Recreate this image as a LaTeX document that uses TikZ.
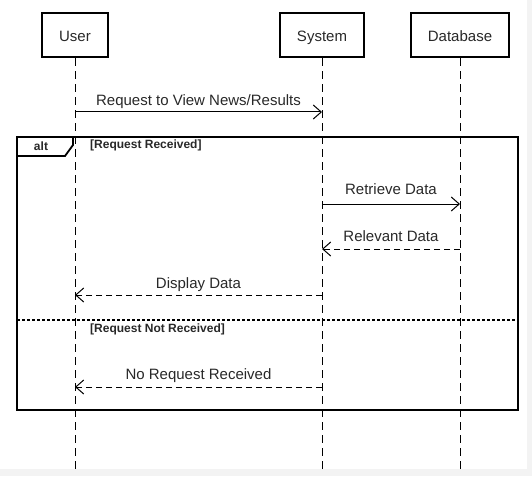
\documentclass[tikz,border=0pt]{standalone}
\usepackage{fontspec}
\setmainfont{Liberation Sans}
\usetikzlibrary{arrows.meta, positioning}
\definecolor{inkgray}{RGB}{40, 40, 40}
\definecolor{edgegray}{RGB}{243, 243, 243}

\begin{document}
\begin{tikzpicture}[x=1pt, y=-1pt,
    actor/.style={draw=black, line width=2.4pt, minimum width=66pt, minimum height=44pt, inner sep=0pt, text height=14pt, text depth=1pt, font=\fontsize{15}{17}\selectfont, text=inkgray},
    lifeline/.style={draw=black, line width=1pt, dash pattern=on 8pt off 5pt},
    msg/.style={line width=1pt, -{Straight Barb[length=8pt, width=14pt]}},
    reply/.style={msg, dash pattern=on 6pt off 4pt},
    msglabel/.style={font=\fontsize{15}{17}\selectfont, text=inkgray, above, inner sep=1pt, text height=11pt, text depth=3pt, yshift=2pt},
    guard/.style={font=\bfseries\fontsize{12}{14}\selectfont, text=inkgray, anchor=west, inner sep=0pt}]
                \useasboundingbox (0,0) rectangle (532,476);
                % Page edge
                \fill[edgegray] (0,469) rectangle (532,476);
                \fill[edgegray] (527,0) rectangle (532,476);

                % Participants
                \node[actor, minimum width=66pt] (user) at (75,35) {User};
                \node[actor, minimum width=84pt] (system) at (322,35) {System};
                \node[actor, minimum width=98pt] (db) at (460,35) {Database};

                % Lifelines
                \foreach \p/\x in {user/75, system/322, db/460} {
                    \coordinate (\p-end) at (\x,469);
                    \draw[lifeline] (\p.south) -- (\p-end);
                }

                % Message points
                \coordinate (u-req) at (75,112);   \coordinate (s-req) at (322,112);
                \coordinate (s-get) at (322,204);  \coordinate (d-get) at (460,204);
                \coordinate (d-rel) at (460,249);  \coordinate (s-rel) at (322,249);
                \coordinate (s-show) at (322,295); \coordinate (u-show) at (75,295);
                \coordinate (s-none) at (322,387); \coordinate (u-none) at (75,387);

                % Alt frame
                \draw[line width=2.2pt] (17,137) rectangle (518,410);
                \draw[line width=1.8pt] (17,156) -- (65,156) -- (73,145) -- (73,137);
                \node[font=\bfseries\fontsize{12}{14}\selectfont, text=inkgray] (alt) at (41,146) {alt};
                \node[guard] (g1) at (90,145.5) {[Request Received]};
                \draw[line width=1.8pt, dash pattern=on 3pt off 2pt] (17,320) -- (518,320);
                \node[guard] (g2) at (90,329) {[Request Not Received]};

                % Messages
                \draw[msg] (u-req) -- node[msglabel] {Request to View News/Results} (s-req);
                \draw[msg] (s-get) -- node[msglabel, yshift=3pt] {Retrieve Data} (d-get);
                \draw[reply] (d-rel) -- node[msglabel, yshift=1pt] {Relevant Data} (s-rel);
                \draw[reply] (s-show) -- node[msglabel] {Display Data} (u-show);
                \draw[reply] (s-none) -- node[msglabel, yshift=1pt] {No Request Received} (u-none);
            \end{tikzpicture}
\end{document}
